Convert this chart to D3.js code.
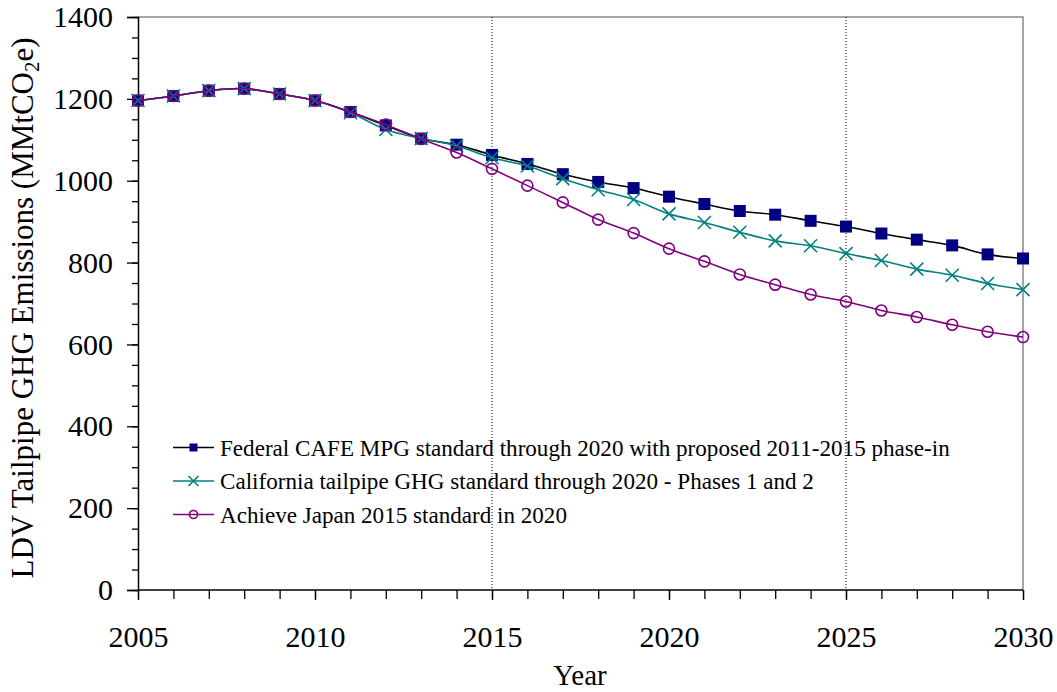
<!DOCTYPE html>
<html><head><meta charset="utf-8">
<script src="https://cdn.jsdelivr.net/npm/d3@7"></script>
<style>body{margin:0;background:#fff}svg{display:block}</style>
</head><body><svg id="c" width="1057" height="692"></svg>
<script>
const years = d3.range(2005, 2031);
const federal = [1196,1207,1220,1225,1212,1196,1168,1135,1103,1088,1063,1041,1016,997,982,961,943,926,917,902,888,871,856,842,820,810];
const california = [1196,1207,1220,1225,1212,1196,1166,1125,1103,1085,1056,1036,1005,978,954,919,898,874,853,841,822,805,784,769,749,734];
const japan = [1196,1207,1220,1225,1212,1196,1168,1137,1102,1069,1029,988,947,905,872,834,803,771,746,722,705,683,667,648,631,618];
const yTicks = [0,200,400,600,800,1000,1200,1400];
const xTicks = [2005,2010,2015,2020,2025,2030];
const refYears = [2015,2025];
const seriesNames = ["Federal CAFE MPG standard through 2020 with proposed 2011-2015 phase-in","California tailpipe GHG standard through 2020 - Phases 1 and 2","Achieve Japan 2015 standard in 2020"];

const FONT = "'Liberation Serif','Times New Roman',serif";
const svg = d3.select("#c");
const L=138,R=1023,T=17,B=590;
const x = d3.scaleLinear().domain([2005,2030]).range([L,R]);
const y = d3.scaleLinear().domain([0,1400]).range([B,T]);

// frame top/right gray
svg.append("path").attr("d",`M${L},${T}H${R}V${B}`).attr("fill","none").attr("stroke","#888").attr("stroke-width",1.5);

// dotted reference lines
svg.selectAll(".ref").data(refYears).enter().append("line")
  .attr("x1",d=>x(d)).attr("x2",d=>x(d)).attr("y1",T).attr("y2",B)
  .attr("stroke","#000").attr("stroke-width",1).attr("stroke-dasharray","1,2");

// y axis
const gy = svg.append("g").attr("transform",`translate(${L},0)`);
gy.call(d3.axisLeft(y).tickValues(d3.range(0,1401,50)).tickSize(6).tickFormat(""));
gy.selectAll(".tick line").attr("stroke","#000").attr("stroke-width",1.3);
gy.select(".domain").remove();
const gy2 = svg.append("g").attr("transform",`translate(${L},0)`);
gy2.call(d3.axisLeft(y).tickValues(yTicks).tickSize(11).tickPadding(14).tickFormat(d3.format("d")));
gy2.selectAll(".domain").attr("stroke","#000").attr("stroke-width",1.5);
gy2.selectAll(".tick line").attr("stroke","#000").attr("stroke-width",1.3);
gy2.selectAll("text").style("font-size","30px").style("font-family",FONT).attr("fill","#000");

// x axis
const gx = svg.append("g").attr("transform",`translate(0,${B})`);
gx.call(d3.axisBottom(x).tickValues(years).tickSize(9).tickFormat(""));
gx.selectAll(".tick line").attr("stroke","#000").attr("stroke-width",1.3);
gx.select(".domain").remove();
const gx2 = svg.append("g").attr("transform",`translate(0,${B})`);
gx2.call(d3.axisBottom(x).tickValues(xTicks).tickSize(10).tickPadding(26).tickFormat(d3.format("d")));
gx2.selectAll(".domain").attr("stroke","#000").attr("stroke-width",1.5).attr("d",`M${L},0H${R}`);
gx2.selectAll(".tick line").attr("stroke","#000").attr("stroke-width",1.3);
gx2.selectAll("text").style("font-size","30px").style("font-family",FONT).attr("fill","#000");

// titles
svg.append("text").attr("x",580).attr("y",685).attr("text-anchor","middle")
  .style("font-family",FONT).style("font-size","29px").text("Year");
const yt = svg.append("text").attr("transform","translate(33,308) rotate(-90)").attr("text-anchor","middle")
  .style("font-family",FONT).style("font-size","31px");
yt.append("tspan").text("LDV Tailpipe GHG Emissions (MMtCO");
yt.append("tspan").style("font-size","21px").attr("dy",6).text("2");
yt.append("tspan").attr("dy",-6).text("e)");

const line = d3.line().x((d,i)=>x(years[i])).y(d=>y(d)).curve(d3.curveCatmullRom.alpha(0.5));
const series = [
  {vals:federal, lc:"#000", mc:"#000080", m:"square"},
  {vals:california, lc:"#008080", mc:"#008080", m:"x"},
  {vals:japan, lc:"#800080", mc:"#800080", m:"circle"}
];
function marker(g, s, cx, cy, sz){
  if(s.m==="square") g.append("rect").attr("x",cx-sz/2).attr("y",cy-sz/2).attr("width",sz).attr("height",sz).attr("fill",s.mc);
  else if(s.m==="x"){const h=sz/2; g.append("path").attr("d",`M${cx-h},${cy-h}L${cx+h},${cy+h}M${cx-h},${cy+h}L${cx+h},${cy-h}`).attr("stroke",s.mc).attr("stroke-width",1.6).attr("fill","none");}
  else g.append("circle").attr("cx",cx).attr("cy",cy).attr("r",sz/2).attr("fill","none").attr("stroke",s.mc).attr("stroke-width",1.6);
}
series.forEach(s=>{
  svg.append("path").datum(s.vals).attr("d",line).attr("fill","none").attr("stroke",s.lc).attr("stroke-width",1.6);
  const g = svg.append("g");
  s.vals.forEach((v,i)=>marker(g,s,x(years[i]),y(v), s.m==="square"?12:(s.m==="x"?13:11)));
});

// legend
const lg = svg.append("g");
seriesNames.forEach((n,i)=>{
  const s=series[i], cy=447.5+i*33.5;
  lg.append("line").attr("x1",173).attr("x2",214).attr("y1",cy).attr("y2",cy).attr("stroke",s.lc).attr("stroke-width",1.6);
  marker(lg,s,193.5,cy, s.m==="square"?8:(s.m==="x"?10:8));
  lg.append("text").attr("x",220).attr("y",cy).attr("dy","0.35em")
    .style("font-family",FONT).style("font-size","23.1px").text(n);
});
</script></body></html>
